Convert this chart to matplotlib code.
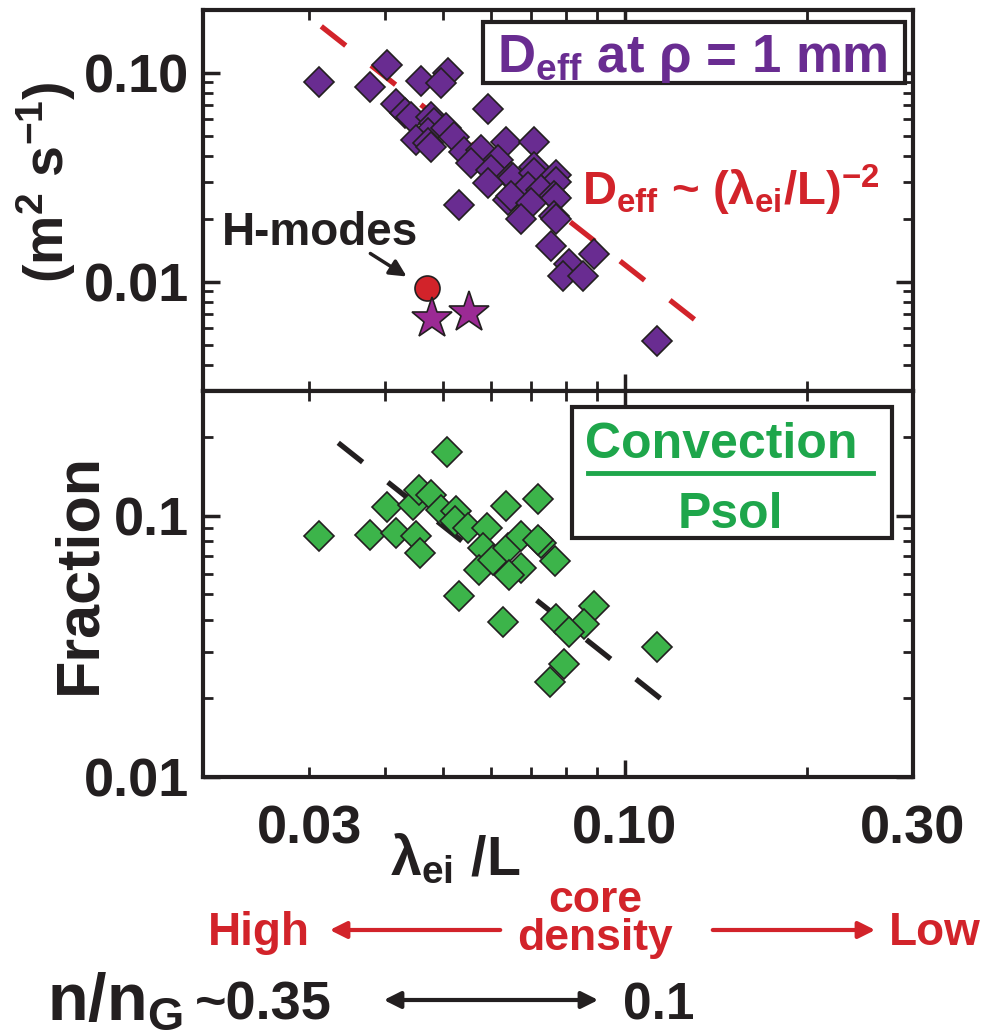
import numpy as np
import matplotlib
matplotlib.use('Agg')
import matplotlib.pyplot as plt
from matplotlib.patches import Rectangle, FancyArrowPatch
from matplotlib.lines import Line2D
from matplotlib.ticker import FixedLocator, FixedFormatter, FuncFormatter

plt.rcParams['font.family'] = ['Liberation Sans', 'DejaVu Sans']
plt.rcParams['font.weight'] = 'bold'
plt.rcParams['mathtext.fontset'] = 'custom'
plt.rcParams['mathtext.rm'] = 'Liberation Sans:bold'
plt.rcParams['mathtext.it'] = 'Liberation Sans:bold'
plt.rcParams['mathtext.bf'] = 'Liberation Sans:bold'
plt.rcParams['mathtext.sf'] = 'Liberation Sans:bold'

# D_eff at rho = 1 mm (purple diamonds)
deff_x = [0.0311, 0.0378, 0.0404, 0.0460, 0.0509, 0.0496, 0.0418, 0.0432,
          0.0442, 0.0477, 0.0483, 0.0472, 0.0506, 0.0451, 0.0521, 0.0472,
          0.0477, 0.0593, 0.0541, 0.0578, 0.0635, 0.0707, 0.0616, 0.0556,
          0.0600, 0.0707, 0.0647, 0.0652, 0.0707, 0.0769, 0.0593, 0.0691,
          0.0769, 0.0726, 0.0640, 0.0647, 0.0763, 0.0769, 0.0531, 0.0699,
          0.0673, 0.0763, 0.0769, 0.0754, 0.0808, 0.0889, 0.0790, 0.0852,
          0.113]
deff_y = [0.0906, 0.0858, 0.109, 0.0916, 0.100, 0.0897, 0.0713, 0.0646,
          0.0612, 0.0612, 0.0573, 0.0514, 0.0543, 0.0476, 0.0492, 0.0461,
          0.0441, 0.0675, 0.0418, 0.0427, 0.0466, 0.0466, 0.0383, 0.0370,
          0.0343, 0.0355, 0.0318, 0.0315, 0.0332, 0.0325, 0.0298, 0.0285,
          0.0301, 0.0276, 0.0247, 0.0256, 0.0256, 0.0253, 0.0234, 0.0239,
          0.0199, 0.0206, 0.0199, 0.0148, 0.0122, 0.0136, 0.0106, 0.0106,
          0.0052]

# H-mode points
hmode_circle_x = [0.0470]
hmode_circle_y = [0.00937]
hmode_star_x = [0.0479, 0.0552]
hmode_star_y = [0.00661, 0.00705]

# D_eff ~ (lambda_ei/L)^-2 trend
deff_fit_x = [0.0314, 0.1316]
deff_fit_y = [0.167, 0.00646]

# Convection / Psol fraction (green diamonds)
conv_x = [0.0311, 0.0507, 0.0378, 0.0404, 0.0418, 0.0451, 0.0458, 0.0446,
          0.0456, 0.0477, 0.0496, 0.0525, 0.0523, 0.0550, 0.0635, 0.0718,
          0.0591, 0.0582, 0.0573, 0.0605, 0.0640, 0.0673, 0.0673, 0.0643,
          0.0726, 0.0718, 0.0766, 0.0531, 0.0628, 0.0769, 0.0889, 0.0855,
          0.0808, 0.0793, 0.0751, 0.113]
conv_y = [0.0837, 0.175, 0.0845, 0.108, 0.0860, 0.0837, 0.0720, 0.110,
          0.125, 0.1195, 0.1055, 0.1045, 0.0957, 0.0899, 0.109, 0.116,
          0.0899, 0.0752, 0.0619, 0.0676, 0.0752, 0.0837, 0.0630, 0.0592,
          0.0787, 0.0808, 0.0670, 0.0491, 0.0393, 0.0404, 0.0453, 0.0386,
          0.0360, 0.0271, 0.0231, 0.0315]

conv_fit_x = [0.0335, 0.116]
conv_fit_y = [0.190, 0.0195]

W, H = 987, 1034
dark = '#231F20'
purple = '#692C91'
magenta = '#9B2A94'
red = '#D2232A'
green = '#3CB44A'
green_txt = '#1EA64B'


def fpos(x, y):
    return (x / W, 1 - y / H)


fig = plt.figure(figsize=(W / 100, H / 100), dpi=100)
ax1 = fig.add_axes([203 / W, 1 - 391 / H, 710 / W, 381 / H])
ax2 = fig.add_axes([203 / W, 1 - 777 / H, 710 / W, 386 / H])

xminor = [0.02, 0.03, 0.04, 0.05, 0.06, 0.07, 0.08, 0.09, 0.2, 0.3]
for ax in (ax1, ax2):
    ax.set_xscale('log')
    ax.set_yscale('log')
    ax.set_xlim(0.02, 0.3)
    ax.xaxis.set_major_locator(FixedLocator([0.1]))
    ax.xaxis.set_minor_locator(FixedLocator(xminor))
    for s in ax.spines.values():
        s.set_linewidth(3)
        s.set_color(dark)
    ax.tick_params(which='both', direction='in', top=True, right=True,
                   colors=dark, labelsize=39)
    ax.tick_params(which='major', length=12, width=2.5, pad=10)
    ax.tick_params(which='minor', length=7, width=2, pad=10)

# top panel
ax1.set_ylim(0.003, 0.2)
ax1.yaxis.set_major_locator(FixedLocator([0.01, 0.1]))
ax1.yaxis.set_major_formatter(FixedFormatter(['0.01', '0.10']))
ax1.yaxis.set_minor_locator(FixedLocator([0.004, 0.005, 0.006, 0.007, 0.008, 0.009,
                                          0.02, 0.03, 0.04, 0.05, 0.06, 0.07, 0.08, 0.09]))
ax1.yaxis.set_minor_formatter(FuncFormatter(lambda v, p: ''))
ax1.tick_params(which='both', labelbottom=False)

l, = ax1.plot(deff_fit_x, deff_fit_y, color=red, lw=3.8, zorder=1)
l.set_dashes([5.9, 6.1])
ax1.plot(deff_x, deff_y, 'D', ms=15.5, mfc=purple, mec=dark, mew=1.2, zorder=2)
ax1.plot(hmode_circle_x, hmode_circle_y, 'o', ms=18, mfc=red, mec=dark, mew=1.2, zorder=3)
ax1.plot(hmode_star_x, hmode_star_y, '*', ms=31, mfc=magenta, mec=dark, mew=1.2, zorder=3)

# bottom panel
ax2.set_ylim(0.01, 0.3)
ax2.yaxis.set_major_locator(FixedLocator([0.01, 0.1]))
ax2.yaxis.set_major_formatter(FixedFormatter(['0.01', '0.1']))
ax2.yaxis.set_minor_locator(FixedLocator([0.02, 0.03, 0.04, 0.05, 0.06, 0.07, 0.08, 0.09, 0.2]))
ax2.yaxis.set_minor_formatter(FuncFormatter(lambda v, p: ''))
ax2.xaxis.set_major_formatter(FixedFormatter(['0.10']))
ax2.xaxis.set_minor_formatter(FuncFormatter(
    lambda v, p: {0.03: '0.03', 0.3: '0.30'}.get(round(v, 3), '')))
ax2.tick_params(axis='x', which='both', pad=20)

l, = ax2.plot(conv_fit_x, conv_fit_y, color=dark, lw=3.8, zorder=1)
l.set_dashes([5.9, 6.1])
ax2.plot(conv_x, conv_y, 'D', ms=15.5, mfc=green, mec=dark, mew=1.2, zorder=2)

# axis labels
fig.text(*fpos(46, 182), r'(m$^2$ s$^{-1}$)', rotation=90, ha='center', va='center',
         fontsize=40, color=dark)
fig.text(*fpos(80, 573), 'Fraction', rotation=90, ha='center', va='center',
         fontsize=44, color=dark)
fig.text(*fpos(390, 875), r'λ$_{ei}$ /L', ha='left', va='baseline', fontsize=40, color=dark)

# top legend box
fig.add_artist(Rectangle(fpos(483, 83), 422 / W, 61 / H, transform=fig.transFigure,
                         fc='white', ec=dark, lw=3, zorder=5))
fig.text(*fpos(497, 72), r'D$_{eff}$ at ρ = 1 mm', color=purple, fontsize=38,
         va='baseline', zorder=6)
fig.text(*fpos(582, 205), r'D$_{eff}$ ~ (λ$_{ei}$/L)$^{-2}$', color=red, fontsize=34,
         va='baseline', zorder=6)
fig.text(*fpos(222, 245), 'H-modes', color=dark, fontsize=33, va='baseline')
fig.add_artist(FancyArrowPatch(fpos(368, 252), fpos(409, 278), transform=fig.transFigure,
                               arrowstyle='-|>', mutation_scale=25, lw=2.5, color=dark))

# bottom legend box
fig.add_artist(Rectangle(fpos(572, 538), 320 / W, 131 / H, transform=fig.transFigure,
                         fc='white', ec=dark, lw=3, zorder=5))
fig.text(*fpos(721, 458), 'Convection', ha='center', va='baseline', fontsize=36,
         color=green_txt, zorder=6)
fig.add_artist(Line2D([588 / W, 873 / W], [1 - 473 / H, 1 - 473 / H],
                      transform=fig.transFigure, lw=3.5, color=green_txt, zorder=6))
fig.text(*fpos(730, 528), 'Psol', ha='center', va='baseline', fontsize=36,
         color=green_txt, zorder=6)

# density annotation
fig.text(*fpos(208, 945), 'High', color=red, fontsize=33, va='baseline')
fig.text(*fpos(595, 912), 'core', color=red, fontsize=32, ha='center', va='baseline')
fig.text(*fpos(595, 950), 'density', color=red, fontsize=32, ha='center', va='baseline')
fig.text(*fpos(889, 945), 'Low', color=red, fontsize=33, va='baseline')
fig.add_artist(FancyArrowPatch(fpos(503, 930), fpos(327, 930), transform=fig.transFigure,
                               arrowstyle='-|>', mutation_scale=25, lw=3, color=red))
fig.add_artist(FancyArrowPatch(fpos(710, 930), fpos(878, 930), transform=fig.transFigure,
                               arrowstyle='-|>', mutation_scale=25, lw=3, color=red))

fig.text(*fpos(47, 1020), r'n/n$_G$', color=dark, fontsize=48, va='baseline')
fig.text(*fpos(195, 1020), '~0.35', color=dark, fontsize=39, va='baseline')
fig.text(*fpos(623, 1020), '0.1', color=dark, fontsize=37, va='baseline')
fig.add_artist(FancyArrowPatch(fpos(381, 1000), fpos(601, 1000), transform=fig.transFigure,
                               arrowstyle='<|-|>', mutation_scale=25, lw=3, color=dark))

fig.savefig('out.png', dpi=100)
